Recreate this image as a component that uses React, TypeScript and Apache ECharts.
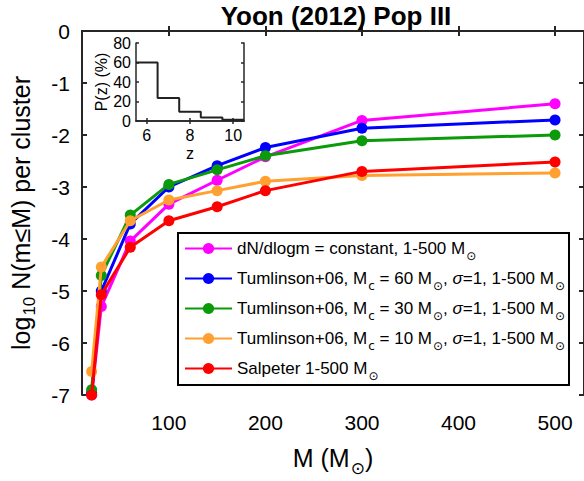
import { useEffect, useRef } from 'react';
import * as echarts from 'echarts';

const FONT = '"Liberation Sans", Arial, sans-serif';
const AXIS_COLOR = '#262626';

// Main panel data
const masses = [20, 30, 60, 100, 150, 200, 300, 500];
const constDN = [-7.0, -5.3, -4.04, -3.33, -2.87, -2.42, -1.72, -1.4];
const tumlinson60 = [-6.95, -5.0, -3.71, -3.0, -2.59, -2.24, -1.87, -1.71];
const tumlinson30 = [-6.9, -4.7, -3.54, -2.95, -2.67, -2.4, -2.11, -2.0];
const tumlinson10 = [-6.55, -4.54, -3.65, -3.25, -3.07, -2.89, -2.78, -2.73];
const salpeter = [-7.0, -5.07, -4.16, -3.65, -3.38, -3.07, -2.7, -2.52];

const seriesNames = [
  'dN/dlogm = constant, 1-500 Msun',
  'Tumlinson+06, Mc = 60 Msun, sigma=1, 1-500 Msun',
  'Tumlinson+06, Mc = 30 Msun, sigma=1, 1-500 Msun',
  'Tumlinson+06, Mc = 10 Msun, sigma=1, 1-500 Msun',
  'Salpeter 1-500 Msun',
];
const legendLabels = [
  '{t|dN/dlogm = constant, 1-500 M}{s|⊙}',
  '{t|Tumlinson+06, M}{s|c}{t| = 60 M}{s|⊙}{t|, }{i|σ}{t|=1, 1-500 M}{s|⊙}',
  '{t|Tumlinson+06, M}{s|c}{t| = 30 M}{s|⊙}{t|, }{i|σ}{t|=1, 1-500 M}{s|⊙}',
  '{t|Tumlinson+06, M}{s|c}{t| = 10 M}{s|⊙}{t|, }{i|σ}{t|=1, 1-500 M}{s|⊙}',
  '{t|Salpeter 1-500 M}{s|⊙}',
];
const seriesValues = [constDN, tumlinson60, tumlinson30, tumlinson10, salpeter];
const seriesColors = ['#FF00FF', '#0000FF', '#0A9A0A', '#FFA030', '#FF0000'];

const xTicks = [100, 200, 300, 400, 500];

// Inset data: redshift distribution
const zBins = [6, 7, 8, 9, 10];
const pz = [60, 23.5, 9.5, 3.5, 1.4];
const insetXTicks = [6, 8, 10];

const option: any = {
  animation: false,
  backgroundColor: '#fff',
  title: {
    text: 'Yoon (2012) Pop III',
    left: 331,
    textAlign: 'center',
    top: -2,
    textStyle: { fontFamily: FONT, fontSize: 26, fontWeight: 'bold', color: '#000' },
  },
  grid: [
    { left: 78, top: 31, width: 506, height: 369, show: false },
    { left: 136, top: 43, width: 108, height: 78, show: true, backgroundColor: '#fff', borderWidth: 0 },
  ],
  legend: {
    data: seriesNames,
    orient: 'vertical',
    left: 178,
    top: 233,
    itemWidth: 47,
    itemHeight: 14,
    itemGap: 8,
    padding: [7, 4, 3, 6],
    backgroundColor: '#fff',
    borderColor: '#000',
    borderWidth: 2,
    formatter: (name: string) => legendLabels[seriesNames.indexOf(name)],
    textStyle: {
      fontFamily: FONT,
      fontSize: 17,
      color: '#000',
      rich: {
        t: { fontFamily: FONT, fontSize: 17, color: '#000' },
        i: { fontFamily: FONT, fontSize: 17, fontStyle: 'italic', color: '#000' },
        s: { fontFamily: '"DejaVu Sans", ' + FONT, fontSize: 12, color: '#000', padding: [15, 0, 0, 1] },
      },
    },
  },
  xAxis: [
    {
      type: 'value', gridIndex: 0, min: 10, max: 530, position: 'bottom',
      axisLine: { show: true, lineStyle: { color: AXIS_COLOR, width: 2 } },
      axisTick: { show: true, inside: true, length: 5, customValues: xTicks, lineStyle: { color: AXIS_COLOR, width: 2 } },
      axisLabel: { customValues: xTicks, fontFamily: FONT, fontSize: 21, color: '#000', margin: 17 },
      splitLine: { show: false },
      name: '{n|M (M}{s|⊙}{n|)}',
      nameLocation: 'middle',
      nameGap: 44,
      nameTextStyle: {
        rich: {
          n: { fontFamily: FONT, fontSize: 25, color: '#000' },
          s: { fontFamily: '"DejaVu Sans", ' + FONT, fontSize: 17, color: '#000', padding: [20, 0, 0, 1] },
        },
      },
    },
    {
      type: 'value', gridIndex: 0, min: 10, max: 530, position: 'top',
      axisLine: { show: true, lineStyle: { color: AXIS_COLOR, width: 2 } },
      axisTick: { show: true, inside: true, length: 5, customValues: xTicks, lineStyle: { color: AXIS_COLOR, width: 2 } },
      axisLabel: { show: false },
      splitLine: { show: false },
    },
    {
      type: 'value', gridIndex: 1, min: 5.5, max: 10.5, position: 'bottom',
      axisLine: { show: true, lineStyle: { color: AXIS_COLOR, width: 1.5 } },
      axisTick: { show: true, inside: true, length: 3, customValues: insetXTicks, lineStyle: { color: AXIS_COLOR, width: 1.5 } },
      axisLabel: { customValues: insetXTicks, fontFamily: FONT, fontSize: 16, color: '#000', margin: 6 },
      splitLine: { show: false },
      name: 'z',
      nameLocation: 'middle',
      nameGap: 24,
      nameTextStyle: { fontFamily: FONT, fontSize: 16, color: '#000' },
    },
    {
      type: 'value', gridIndex: 1, min: 5.5, max: 10.5, position: 'top',
      axisLine: { show: true, lineStyle: { color: AXIS_COLOR, width: 1.5 } },
      axisTick: { show: true, inside: true, length: 3, customValues: insetXTicks, lineStyle: { color: AXIS_COLOR, width: 1.5 } },
      axisLabel: { show: false },
      splitLine: { show: false },
    },
  ],
  yAxis: [
    {
      type: 'value', gridIndex: 0, min: -7, max: 0, interval: 1, position: 'left',
      axisLine: { show: true, lineStyle: { color: AXIS_COLOR, width: 2 } },
      axisTick: { show: true, inside: true, length: 5, lineStyle: { color: AXIS_COLOR, width: 2 } },
      axisLabel: { fontFamily: FONT, fontSize: 21, color: '#000', margin: 12 },
      splitLine: { show: false },
      name: '{n|log}{s|10}{n| N(m≤M) per cluster}',
      nameLocation: 'middle',
      nameGap: 44,
      nameTextStyle: {
        rich: {
          n: { fontFamily: FONT, fontSize: 25, color: '#000' },
          s: { fontFamily: FONT, fontSize: 17, color: '#000', padding: [18, 0, 0, 1] },
        },
      },
    },
    {
      type: 'value', gridIndex: 0, min: -7, max: 0, interval: 1, position: 'right',
      axisLine: { show: true, lineStyle: { color: AXIS_COLOR, width: 2 } },
      axisTick: { show: true, inside: true, length: 5, lineStyle: { color: AXIS_COLOR, width: 2 } },
      axisLabel: { show: false },
      splitLine: { show: false },
    },
    {
      type: 'value', gridIndex: 1, min: 0, max: 80, interval: 20, position: 'left',
      axisLine: { show: true, lineStyle: { color: AXIS_COLOR, width: 1.5 } },
      axisTick: { show: true, inside: true, length: 3, lineStyle: { color: AXIS_COLOR, width: 1.5 } },
      axisLabel: { fontFamily: FONT, fontSize: 16, color: '#000', margin: 5 },
      splitLine: { show: false },
      name: 'P(z) (%)',
      nameLocation: 'middle',
      nameGap: 26,
      nameTextStyle: { fontFamily: FONT, fontSize: 16, color: '#000' },
    },
    {
      type: 'value', gridIndex: 1, min: 0, max: 80, interval: 20, position: 'right',
      axisLine: { show: true, lineStyle: { color: AXIS_COLOR, width: 1.5 } },
      axisTick: { show: true, inside: true, length: 3, lineStyle: { color: AXIS_COLOR, width: 1.5 } },
      axisLabel: { show: false },
      splitLine: { show: false },
    },
  ],
  series: [
    ...seriesNames.map((name, k) => ({
      name,
      type: 'line',
      xAxisIndex: 0,
      yAxisIndex: 0,
      data: masses.map((m, i) => [m, seriesValues[k][i]]),
      symbol: 'circle',
      symbolSize: 11,
      showSymbol: true,
      clip: false,
      z: 2 + k,
      lineStyle: { color: seriesColors[k], width: 3 },
      itemStyle: { color: seriesColors[k] },
    })),
    {
      type: 'line',
      xAxisIndex: 2,
      yAxisIndex: 2,
      step: 'end',
      symbol: 'none',
      data: [
        ...zBins.map((z, i) => [z - 0.5, pz[i]]),
        [zBins[zBins.length - 1] + 0.5, pz[pz.length - 1]],
      ],
      lineStyle: { color: '#222', width: 2 },
      z: 10,
    },
  ],
};

export default function App() {
  const ref = useRef<HTMLDivElement>(null);
  useEffect(() => {
    const chart = echarts.init(ref.current!, null, { renderer: 'svg' });
    chart.setOption(option);
    return () => chart.dispose();
  }, []);
  return (
    <div
      ref={ref}
      style={{ position: 'absolute', left: 0, top: 0, width: 584, height: 481, background: '#fff' }}
    />
  );
}
